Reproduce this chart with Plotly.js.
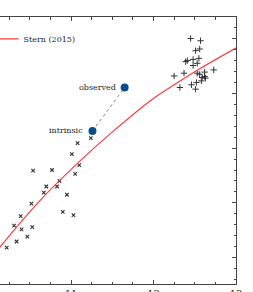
<!DOCTYPE html>
<html>
<head>
<meta charset="utf-8">
<script src="https://cdn.plot.ly/plotly-3.0.1.min.js"></script>
<style>html,body{margin:0;padding:0;background:#fff;overflow:hidden}#chart{width:253px;height:292px}</style>
</head>
<body>
<div id="chart"></div>
<script>
// Stern (2015) relation
const sternX = [10.10, 10.62, 11.12, 11.53, 11.97, 12.26, 12.56, 13.05];
const sternY = [42.13, 43.04, 43.78, 44.33, 44.87, 45.16, 45.44, 45.86];

// low-luminosity sample ("x" markers)
const lowX = [11.08, 11.24, 11.01, 11.10, 11.05, 10.54, 10.77, 10.86, 10.70, 10.83, 10.67,
              10.95, 10.52, 10.90, 11.03, 10.39, 10.31, 10.40, 10.53, 10.47, 10.34, 10.22];
const lowY = [44.09, 44.18, 43.89, 43.69, 43.53, 43.59, 43.60, 43.40, 43.30, 43.30, 43.19,
              43.15, 42.99, 42.84, 42.78, 42.76, 42.59, 42.52, 42.56, 42.39, 42.30, 42.19];

// high-luminosity sample ("+" markers)
const highX = [12.45, 12.57, 12.56, 12.51, 12.39, 12.41, 12.48, 12.55, 12.48, 12.53, 12.37, 12.53,
               12.56, 12.62, 12.73, 12.25, 12.62, 12.59, 12.63, 12.58, 12.52, 12.46, 12.32, 12.51];
const highY = [45.99, 45.95, 45.80, 45.77, 45.57, 45.59, 45.61, 45.63, 45.50, 45.54, 45.36, 45.36,
               45.34, 45.38, 45.42, 45.31, 45.30, 45.28, 45.27, 45.22, 45.19, 45.15, 45.10, 45.07];

// highlighted source
const srcLabels = ["intrinsic", "observed"];
const srcX = [11.26, 11.65];
const srcY = [44.31, 45.10];

const xTicks = [11, 12, 13];

const serif = "DejaVu Serif";
const traces = [
  {x: srcX, y: srcY, mode: "lines", line: {color: "#888", width: 1, dash: "dot"},
   showlegend: false, hoverinfo: "skip"},
  {x: lowX, y: lowY, mode: "markers", showlegend: false,
   marker: {symbol: "x-thin-open", size: 3.5, color: "#333", line: {color: "#333", width: 1.1}}},
  {x: highX, y: highY, mode: "markers", showlegend: false,
   marker: {symbol: "cross-thin-open", size: 4.5, color: "#333", line: {color: "#333", width: 1}}},
  {x: sternX, y: sternY, mode: "lines", name: "Stern (2015)",
   line: {color: "#ff3b3b", width: 1.2, shape: "spline"}},
  {x: srcX, y: srcY, mode: "markers", showlegend: false,
   marker: {color: "#0b4d8c", size: 8}}
];

const annotations = srcLabels.map((t, i) => ({
  x: srcX[i], y: srcY[i], xref: "x", yref: "y", text: t, showarrow: false,
  xanchor: "right", yanchor: "middle", xshift: -7,
  font: {family: serif, size: 8, color: "#222"}
}));

const layout = {
  width: 253, height: 292, autosize: false,
  margin: {l: 0, r: 17, t: 17, b: 8, pad: 0, autoexpand: false},
  paper_bgcolor: "#fff", plot_bgcolor: "#fff",
  showlegend: true,
  legend: {x: -0.07, xanchor: "left", y: 0.918, yanchor: "middle",
           bgcolor: "rgba(0,0,0,0)", font: {family: serif, size: 8, color: "#222"}},
  xaxis: {range: [10.139, 13.0], showgrid: false, zeroline: false,
          showline: true, linecolor: "#444", linewidth: 1, mirror: "ticks",
          ticks: "inside", ticklen: 4, tickcolor: "#444", tickwidth: 1,
          tickmode: "array", tickvals: xTicks, ticktext: xTicks.map(String),
          tickfont: {family: serif, size: 10, color: "#222"},
          minor: {dtick: 0.25, tick0: 0, ticks: "inside", ticklen: 2.5, tickcolor: "#444", showgrid: false}},
  yaxis: {range: [41.527, 46.382], side: "right", showgrid: false, zeroline: false,
          showline: true, linecolor: "#444", linewidth: 1,
          ticks: "inside", ticklen: 4.5, tickcolor: "#444", tickwidth: 1,
          dtick: 1, tick0: 0, showticklabels: false,
          minor: {dtick: 0.2, tick0: 0, ticks: "inside", ticklen: 2.5, tickcolor: "#444", showgrid: false}},
  annotations: annotations
};

Plotly.newPlot("chart", traces, layout, {staticPlot: true, displayModeBar: false});
</script>
</body>
</html>
